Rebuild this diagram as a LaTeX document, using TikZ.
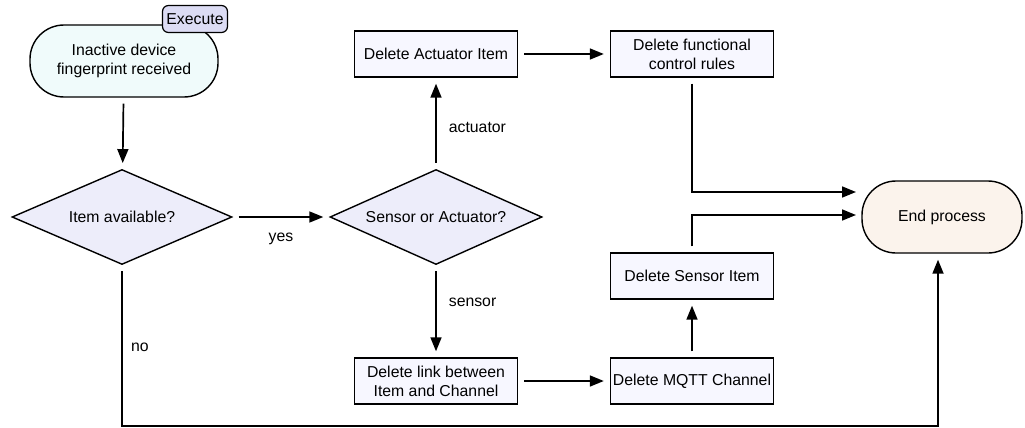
\documentclass[tikz,border=0pt]{standalone}
\usepackage{fontspec}
\setmainfont{Liberation Sans}
\usetikzlibrary{shapes.geometric,arrows.meta,positioning}
\definecolor{startfill}{HTML}{F0FBFB}
\definecolor{endfill}{HTML}{FBF3EC}
\definecolor{decfill}{HTML}{EDEDFA}
\definecolor{boxfill}{HTML}{F7F7FF}
\definecolor{tagfill}{HTML}{DCDCF4}
\begin{document}
\begin{tikzpicture}[x=1pt,y=-1pt,
  every node/.style={font=\fontsize{15.8}{19}\selectfont, align=center, inner sep=0pt},
  term/.style={draw, line width=1.4pt, rounded corners=34pt, minimum width=#1, minimum height=72pt},
  decision/.style={draw, line width=1.4pt, diamond, aspect=2.33, fill=decfill, minimum width=220pt, minimum height=95pt, inner sep=0pt},
  stepbox/.style={draw, line width=1.4pt, fill=boxfill, minimum width=163pt, minimum height=46pt},
  conn/.style={line width=1.7pt, -{Triangle[length=14pt,width=11pt]}, shorten >=6pt, shorten <=6pt},
  lbl/.style={font=\fontsize{15.8}{19}\selectfont}
]
\useasboundingbox (0,0) rectangle (1025,428);
\node[term=188pt, fill=startfill] (start) at (124,61) {Inactive device\\fingerprint received};
\node[draw, line width=1.2pt, rounded corners=6pt, fill=tagfill, minimum width=65pt, minimum height=27pt] (tag) at (195,19) {Execute};
\node[decision] (avail) at (122,217) {Item available?};
\node[decision, minimum width=212pt] (sa) at (436,217) {Sensor or Actuator?};
\node[stepbox] (act) at (436,54) {Delete Actuator Item};
\node[stepbox] (rules) at (692,54) {Delete functional\\control rules};
\node[stepbox] (sens) at (692,276) {Delete Sensor Item};
\node[stepbox] (mqtt) at (692,381) {Delete MQTT Channel};
\node[stepbox] (link) at (436,381) {Delete link between\\Item and Channel};
\node[term=160pt, fill=endfill] (end) at (942,217) {End process};
\coordinate (e1) at (862,192);
\coordinate (e2) at (862,215);
\coordinate (nocorner) at (122,426);
\coordinate (noend) at (938,426);

\draw[conn] (start) -- (avail);
\draw[conn] (avail) -- node[lbl, below=15pt] {yes} (sa);
\draw[conn] (sa) -- node[lbl, right=12pt, pos=0.45] {actuator} (act);
\draw[conn] (sa) -- node[lbl, right=12pt, pos=0.4] {sensor} (link);
\draw[conn] (act) -- (rules);
\draw[conn] (link) -- (mqtt);
\draw[conn] (mqtt) -- (sens);
\draw[conn] (rules.south) |- (e1);
\draw[conn] (sens.north) |- (e2);
\draw[conn, shorten >=6pt] (avail.south) -- (nocorner) -- (noend) -- (noend |- end.south);
\node[lbl] (no) at (140,347) {no};
\end{tikzpicture}
\end{document}
